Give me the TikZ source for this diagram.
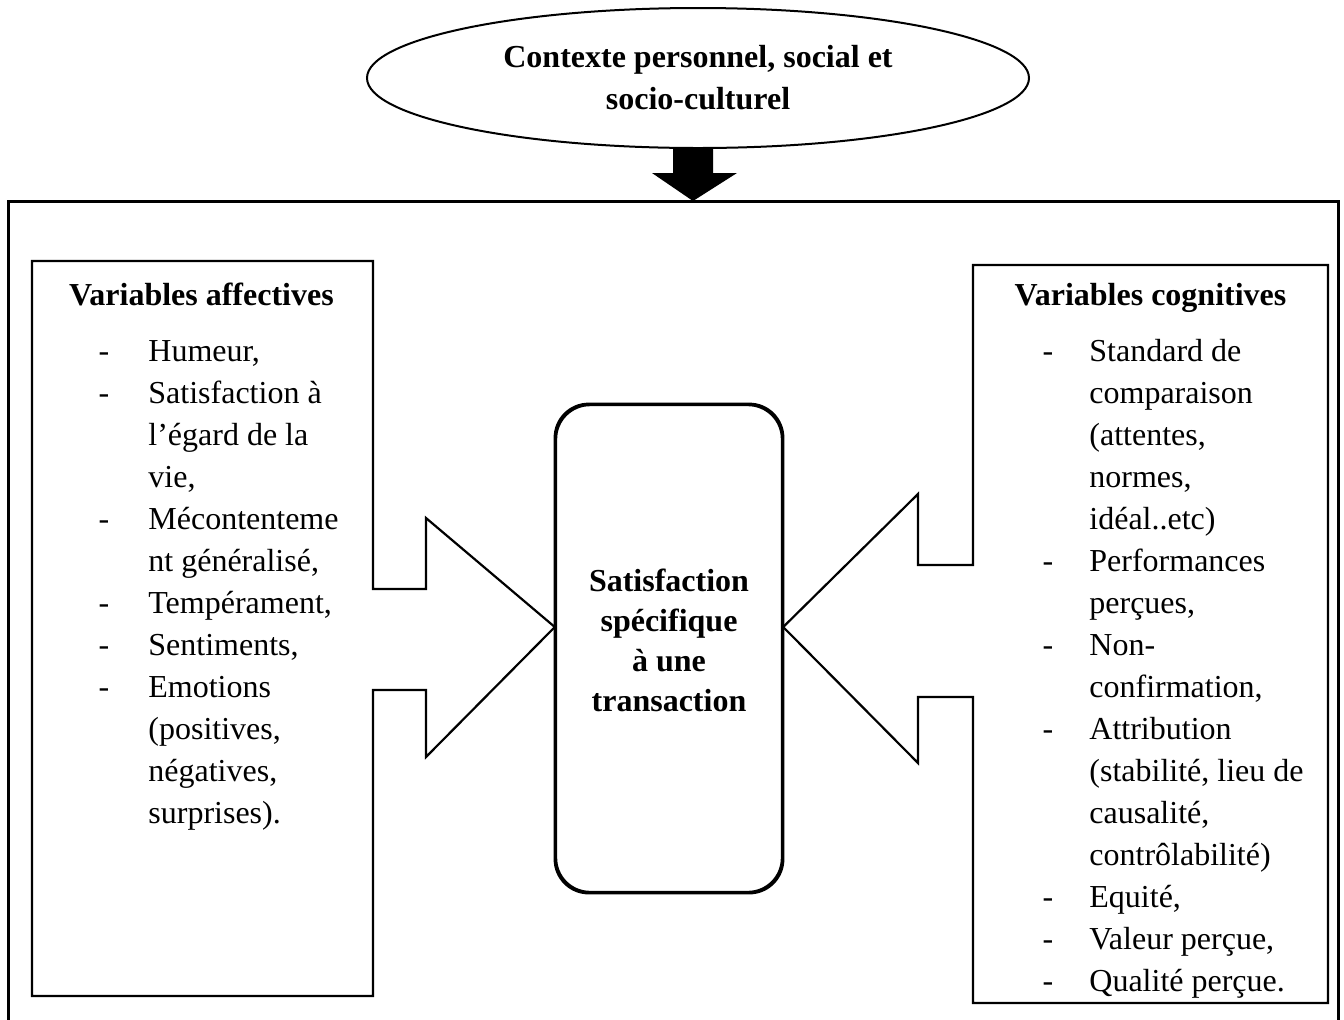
\documentclass[tikz,border=0pt]{standalone}
\usepackage{fontspec}
\setmainfont{Liberation Serif}
\usepackage{tikz}
\usetikzlibrary{positioning, shapes.geometric, calc}
\tikzset{
	ovalnode/.style={
			ellipse,
			draw=black,
			line width=1pt,
			minimum width=331pt,
			minimum height=70pt,
			inner sep=0pt,
			align=center,
			font=\bfseries\fontsize{16}{21}\selectfont
		},
	satnode/.style={
			rectangle,
			draw=black,
			line width=1.2pt,
			rounded corners=17pt,
			minimum width=113pt,
			minimum height=243.5pt
		},
	titletext/.style={
			inner sep=0pt,
			font=\bfseries\fontsize{16}{21}\selectfont
		},
	itemtext/.style={
			inner sep=0pt,
			anchor=mid west,
			font=\fontsize{16}{21}\selectfont
		},
	dashtext/.style={
			itemtext,
			anchor=mid
		},
	blockline/.style={
			draw=black,
			fill=white,
			line width=1.1pt
		},
	outerline/.style={
			draw=black,
			line width=1.5pt
		}
}

\begin{document}
\begin{tikzpicture}[x=0.5pt, y=-0.5pt]
\useasboundingbox (0,0) rectangle (1344,1019);

\node[ovalnode] (ctx) at (698,78) {Contexte personnel, social et\\socio-culturel};
\fill[black] (673,148) -- (713,148) -- (713,173) -- (737,173) -- (693,201) -- (652,173) -- (673,173) -- cycle;
\draw[outerline] (8,1040) -- (8,201) -- (1338,201) -- (1338,1040);

\node[satnode] (sat) at (669,648.5) {};
\coordinate (ltip) at (sat.west |- 0,627);
\coordinate (rtip) at (sat.east |- 0,627);

\filldraw[blockline] (32,261) -- (373,261) -- (373,589) -- (426,589) -- (426,518) -- (ltip)
  -- (426,757) -- (426,690) -- (373,690) -- (373,996) -- (32,996) -- cycle;
\filldraw[blockline] (1328,265) -- (973,265) -- (973,565) -- (918,565) -- (918,494) -- (rtip)
  -- (918,763) -- (918,697) -- (973,697) -- (973,1003) -- (1328,1003) -- cycle;
\draw[line width=1.2pt, rounded corners=17pt] (sat.north west) rectangle (sat.south east);

\node[titletext, align=center, font=\bfseries\fontsize{16}{20}\selectfont] (satlabel) at (669,640)
  {Satisfaction\\spécifique\\à une\\transaction};

\node[titletext, anchor=mid] (afftitle) at (201.5,301) {Variables affectives};
\node[titletext, anchor=mid] (cogtitle) at (1150.5,301) {Variables cognitives};

\foreach \d/\txt [count=\i] in {1/{Humeur,}, 1/{Satisfaction à}, 0/{l’égard de la}, 0/{vie,},
  1/{Mécontenteme}, 0/{nt généralisé,}, 1/{Tempérament,}, 1/{Sentiments,}, 1/{Emotions},
  0/{(positives,}, 0/{négatives,}, 0/{surprises).}}{
  \node[itemtext] (aff\i) at (148,315+42*\i) {\txt};
  \ifnum\d=1 \node[dashtext] at (104,315+42*\i) {-}; \fi
}

\foreach \d/\txt [count=\i] in {1/{Standard de}, 0/{comparaison}, 0/{(attentes,}, 0/{normes,},
  0/{idéal..etc)}, 1/{Performances}, 0/{perçues,}, 1/{Non-}, 0/{confirmation,},
  1/{Attribution}, 0/{(stabilité, lieu de}, 0/{causalité,}, 0/{contrôlabilité)},
  1/{Equité,}, 1/{Valeur perçue,}, 1/{Qualité perçue.}}{
  \node[itemtext] (cog\i) at (1089,315+42*\i) {\txt};
  \ifnum\d=1 \node[dashtext] at (1048,315+42*\i) {-}; \fi
}
\end{tikzpicture}
\end{document}
